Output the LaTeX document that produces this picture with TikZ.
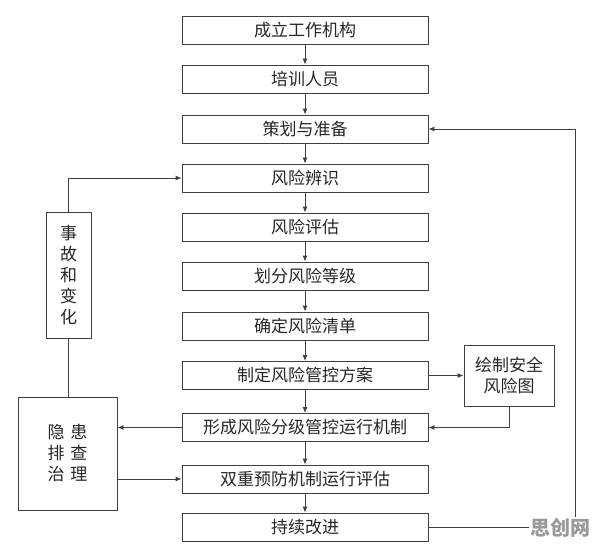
\documentclass[tikz,border=0pt]{standalone}
\usepackage{fontspec}
\newfontfamily\cjk{Noto Sans CJK SC}
\usetikzlibrary{arrows.meta}
\tikzset{
  stepbox/.style={draw=black!75, line width=0.9pt, minimum width=246pt,
    minimum height=28pt, inner sep=0pt, text=black!85,
    font=\cjk\fontsize{17}{18}\selectfont},
  sidebox/.style={draw=black!75, line width=0.9pt, inner sep=0pt,
    align=center, text=black!85, font=\cjk\fontsize{17}{21}\selectfont},
  flow/.style={draw=black!75, line width=0.9pt, -{Latex[length=6pt,width=5pt]}},
  link/.style={draw=black!75, line width=0.9pt}
}
\begin{document}
\begin{tikzpicture}[x=1pt,y=-1pt]
  \useasboundingbox (0,0) rectangle (596,553);
  \draw
    (305,30) node[stepbox] (b1){成立工作机构}
    (305,79) node[stepbox] (b2){培训人员}
    (305,129) node[stepbox] (b3){策划与准备}
    (305,178) node[stepbox] (b4){风险辨识}
    (305,227) node[stepbox] (b5){风险评估}
    (305,276) node[stepbox] (b6){划分风险等级}
    (305,326) node[stepbox] (b7){确定风险清单}
    (305,375.5) node[stepbox] (b8){制定风险管控方案}
    (305,427.5) node[stepbox] (b9){形成风险分级管控运行机制}
    (305,479) node[stepbox] (b10){双重预防机制运行评估}
    (305,527) node[stepbox] (b11){持续改进};
  % side boxes
  \node[sidebox, minimum width=45pt, minimum height=126pt] (acc) at (68.5,275)
    {事\\故\\和\\变\\化};
  \node[sidebox, minimum width=99pt, minimum height=113pt] (haz) at (67.5,453.5)
    {隐\hspace{6pt}患\\排\hspace{6pt}查\\治\hspace{6pt}理};
  \node[sidebox, minimum width=90pt, minimum height=61pt] (map) at (509,375.5)
    {绘制安全\\风险图};
  \coordinate (turn) at (575,527);
  \begin{scope}[flow]
    \foreach \a/\b in {b1/b2,b2/b3,b3/b4,b4/b5,b5/b6,b6/b7,b7/b8,b8/b9,b9/b10,b10/b11}
      \draw (\a) -- (\b);
    \draw (acc.north) |- (b4.west);
    \draw (b9.west) -- (haz.east |- b9.west);
    \draw (haz.east |- b10.west) -- (b10.west);
    \draw (b8.east) -- (map.west);
    \draw (map.south) |- (b9.east);
    \draw (b11.east) -- (turn) |- (b3.east);
  \end{scope}
  \draw[link] (acc.south) -- (acc.south |- haz.north);
  % watermark
  \node[fill=white, inner sep=1pt, text=black!40,
    font=\cjk\bfseries\fontsize{20}{20}\selectfont] (mark) at (560,528) {思创网};
\end{tikzpicture}
\end{document}
